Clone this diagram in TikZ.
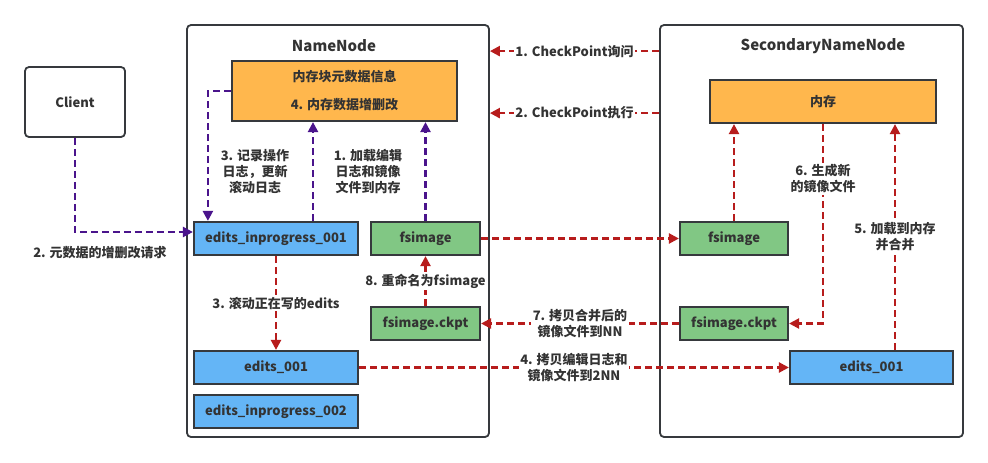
\documentclass[tikz,border=0pt]{standalone}
\usepackage{fontspec}
\setmainfont{Noto Sans CJK SC}
\usetikzlibrary{arrows.meta,positioning,calc}
\definecolor{morange}{HTML}{FFB74D}
\definecolor{mblue}{HTML}{64B5F6}
\definecolor{mgreen}{HTML}{81C784}
\definecolor{mred}{HTML}{B71C1C}
\definecolor{mpurple}{HTML}{4A148C}
\definecolor{txt}{HTML}{333333}
\definecolor{bord}{HTML}{36393D}
\tikzset{
  x=1pt,y=-1pt,
  every node/.style={text=txt,font=\bfseries\fontsize{13}{16}\selectfont},
  container/.style={draw=bord,line width=1.8pt,rounded corners=4pt,minimum width=#1,minimum height=412pt,inner sep=0pt},
  filebox/.style={draw=bord,line width=2.2pt,minimum height=33pt,inner sep=0pt},
  bluebox/.style={filebox,fill=mblue,minimum width=#1},
  greenbox/.style={filebox,fill=mgreen,minimum width=#1},
  membox/.style={draw=bord,line width=2.2pt,fill=morange,inner sep=0pt,align=center},
  redarrow/.style={draw=mred,line width=2.3pt,dash pattern=on 7pt off 4pt,-{Triangle[length=10pt,width=10pt]}},
  purplearrow/.style={draw=mpurple,line width=2.3pt,dash pattern=on 7pt off 4pt,-{Triangle[length=10pt,width=10pt]}},
  elabel/.style={fill=white,inner sep=1.5pt,align=center},
  freelabel/.style={align=center,inner sep=0pt},
  titlelabel/.style={font=\bfseries\fontsize{15}{18}\selectfont}
}
\begin{document}
\begin{tikzpicture}
\useasboundingbox[fill=white] (0,0) rectangle (988,463);
% containers
\node[container=302pt] (nn) at (338,231) {};
\node[container=303pt] (snn) at (811.5,231) {};
\node[titlelabel] (nntitle) at (334,46) {NameNode};
\node[titlelabel] (snntitle) at (823,46) {SecondaryNameNode};
% client
\node[draw=bord,line width=1.8pt,rounded corners=4pt,minimum width=100pt,minimum height=70pt] (client) at (75,102) {Client};
% NameNode content
\node[membox,minimum width=225pt,minimum height=60pt] (mem1) at (344.5,91) {内存块元数据信息\\[12pt]4. 内存数据增删改};
\node[bluebox=164pt] (eip1) at (276,238.5) {edits\_inprogress\_001};
\node[greenbox=109pt] (fs1) at (425.5,238.5) {fsimage};
\node[greenbox=109pt] (fsc1) at (425.5,323.5) {fsimage.ckpt};
\node[bluebox=164pt] (e1) at (276,367.5) {edits\_001};
\node[bluebox=164pt] (eip2) at (276,411.5) {edits\_inprogress\_002};
% SecondaryNameNode content
\node[membox,minimum width=226pt,minimum height=43pt] (mem2) at (823,101.5) {内存};
\node[greenbox=108pt] (fs2) at (734,238.5) {fsimage};
\node[greenbox=108pt] (fsc2) at (734,323.5) {fsimage.ckpt};
\node[bluebox=163pt] (e2) at (871.5,367.5) {edits\_001};
% free labels
\node[freelabel] (lclient) at (100,253) {2. 元数据的增删改请求};
\node[freelabel] (lrec) at (255,172) {3. 记录操作\\日志，更新\\滚动日志};
\node[freelabel] (lload) at (368,172) {1. 加载编辑\\日志和镜像\\文件到内存};
% purple connectors
\draw[purplearrow] (client.south) |- ([yshift=6.5pt]eip1.west);
\draw[purplearrow] (mem1.west) -| ([xshift=15pt]eip1.north west);
\draw[purplearrow] ([xshift=37pt]eip1.north) -- ([xshift=37pt]eip1.north |- mem1.south);
\draw[purplearrow] (fs1.north) -- (fs1.north |- mem1.south);
% red connectors
\draw[redarrow] ([yshift=-27pt]snn.north west) -- node[elabel]{1. CheckPoint询问} ([yshift=-27pt]nn.north east);
\draw[redarrow] ([yshift=-89pt]snn.north west) -- node[elabel]{2. CheckPoint执行} ([yshift=-89pt]nn.north east);
\draw[redarrow] (eip1.south) -- node[elabel]{3. 滚动正在写的edits} (e1.north);
\draw[redarrow] (fsc1.north) -- node[elabel]{8. 重命名为fsimage} (fs1.south);
\draw[redarrow] (fs1.east) -- (fs2.west);
\draw[redarrow] (fs2.north) -- (fs2.north |- mem2.south);
\draw[redarrow] (mem2.south) |- node[elabel,pos=0.137]{6. 生成新\\的镜像文件} (fsc2.east);
\draw[redarrow] ([xshift=23.5pt]e2.north) -- node[elabel]{5. 加载到内存\\并合并} ([xshift=23.5pt]e2.north |- mem2.south);
\draw[redarrow] (fsc2.west) -- node[elabel]{7. 拷贝合并后的\\镜像文件到NN} (fsc1.east);
\draw[redarrow] (e1.east) -- node[elabel]{4. 拷贝编辑日志和\\镜像文件到2NN} (e2.west);
\end{tikzpicture}
\end{document}
